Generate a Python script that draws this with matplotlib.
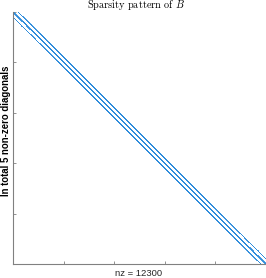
import numpy as np
import matplotlib
matplotlib.use("Agg")
import matplotlib.pyplot as plt

# Data: 2D Laplacian sparsity pattern on a 50x50 grid (n = 2500)
grid_size = 50
diag_offsets = [0, 1, -1, grid_size, -grid_size]
title_text = r"Sparsity pattern of $B$"
ylabel_text = "In total 5 non-zero diagonals"
tick_positions = [0, 500, 1000, 1500, 2000, 2500]

n = grid_size * grid_size
rows_list, cols_list = [], []
for k in diag_offsets:
    i = np.arange(max(0, -k), min(n, n - k))
    j = i + k
    if abs(k) == 1:
        # no coupling across grid-line boundaries
        keep = (np.minimum(i, j) % grid_size) != grid_size - 1
        i, j = i[keep], j[keep]
    rows_list.append(i + 1)
    cols_list.append(j + 1)
rows = np.concatenate(rows_list)
cols = np.concatenate(cols_list)
nz = rows.size

plt.rcParams['mathtext.fontset'] = 'cm'
plt.rcParams['axes.formatter.use_mathtext'] = True
fig = plt.figure(figsize=(2.66, 2.78), dpi=100)
ax = fig.add_axes([13 / 266, 1 - 264 / 278, 253 / 266, 252 / 278])
ax.plot(cols, rows, linestyle='none', marker='.', markersize=1.5,
        markeredgewidth=0, color='#2f8cdb')
ax.set_xlim(0, n + 1)
ax.set_ylim(n + 1, 0)
ax.set_xticks(tick_positions)
ax.set_yticks(tick_positions)
ax.set_xticklabels([])
ax.set_yticklabels([])
ax.tick_params(direction='in', length=2.5, width=0.6, color='#808080')
for s in ['top', 'right']:
    ax.spines[s].set_visible(False)
for s in ['left', 'bottom']:
    ax.spines[s].set_color('#808080')
    ax.spines[s].set_linewidth(0.8)

fig.text(136 / 266, 1 - 5.5 / 278, title_text, ha='center', va='center',
         fontsize=7.4, family='cmr10')
fig.text(139 / 266, 1 - 273 / 278, f"nz = {nz}", ha='center', va='center',
         fontsize=6.8, family='Liberation Sans', color='#262626')
fig.text(6 / 266, 1 - 131 / 278, ylabel_text, ha='center', va='center',
         rotation=90, fontsize=6.9, fontweight='bold', family='Liberation Sans')

fig.savefig("out.png", dpi=100)
